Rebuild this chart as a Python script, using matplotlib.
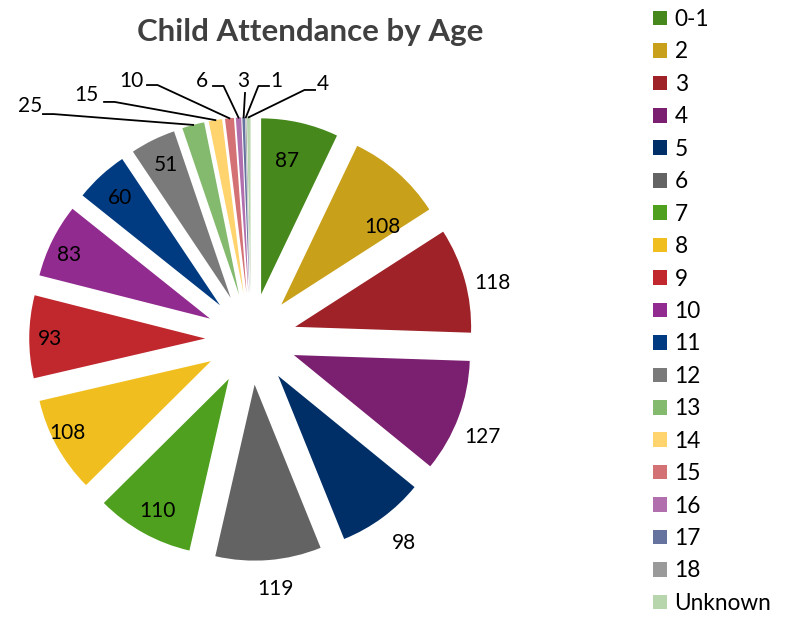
import matplotlib
matplotlib.use("Agg")
import matplotlib.pyplot as plt
import numpy as np

# Datos
ages = ['0-1', '2', '3', '4', '5', '6', '7', '8', '9', '10', '11', '12',
        '13', '14', '15', '16', '17', '18', 'Unknown']
attendance = [87, 108, 118, 127, 98, 119, 110, 108, 93, 83, 60, 51,
              25, 15, 10, 6, 3, 1, 4]

colors = ['#46881B', '#C9A01A', '#9E2227', '#7B1F70', '#002F68', '#636363',
          '#4EA01E', '#F0BF1F', '#C0282E', '#912B8F', '#003B82', '#7A7A7A',
          '#83BA6D', '#FFD36E', '#D47174', '#B26FAD', '#67739F', '#9A9A9A',
          '#B8D6AE']

plt.rcParams['font.family'] = ['Lato', 'DejaVu Sans']

fig = plt.figure(figsize=(7.86, 6.17), dpi=100)
R_PX = 176.0
L = 1.5
ax = fig.add_axes([(251 - L * R_PX) / 786, (617 - 339 - L * R_PX) / 617,
                   2 * L * R_PX / 786, 2 * L * R_PX / 617])

explode = [0.26] * len(attendance)
wedges, _ = ax.pie(attendance, colors=colors, explode=explode, startangle=90,
                   counterclock=False, radius=1,
                   wedgeprops=dict(linewidth=0))
ax.set_xlim(-L, L)
ax.set_ylim(-L, L)
ax.set_aspect('equal')
ax.axis('off')

# Etiquetas de las porciones grandes: (radio, desplazamiento angular)
big_label_pos = [(1.03, 1.3), (0.98, -8.3), (1.41, -2.3), (1.43, -2.4),
                 (1.45, 0.5), (1.43, 1.1), (1.11, 0.6), (1.17, -1.9),
                 (1.14, 0.6), (1.14, 1.7), (1.09, 0.3), (1.10, -0.1)]
for w, v, (r, off) in zip(wedges, attendance, big_label_pos):
    ang = np.deg2rad((w.theta1 + w.theta2) / 2 + off)
    ax.text(r * np.cos(ang), r * np.sin(ang), str(v), ha='center',
            va='center', fontsize=15, color='black')

# Etiquetas de las porciones pequeñas con líneas guía
small_label_pos = [(-1.256, 1.324, -1.182, 1.278), (-0.9375, 1.386, -0.835, 1.347),
                   (-0.682, 1.466, -0.591, 1.443), (-0.278, 1.466, -0.216, 1.4375),
                   (-0.045, 1.466, -0.034, 1.398), (0.142, 1.466, 0.102, 1.4375),
                   (0.409, 1.449, 0.364, 1.415)]
for w, v, (tx, ty, sx, sy) in zip(wedges[12:], attendance[12:], small_label_pos):
    ang = np.deg2rad((w.theta1 + w.theta2) / 2)
    cx, cy = w.center
    ex, ey = cx + w.r * np.cos(ang), cy + w.r * np.sin(ang)
    ax.text(tx, ty, str(v), ha='center', va='center', fontsize=15,
            color='black', clip_on=False)
    if abs(sx - ex) < 0.02:
        xs, ys = [sx, ex], [sy, ey]
    else:
        step = 0.06 if ex > sx else -0.06
        xs, ys = [sx, sx + step, ex], [sy, sy, ey]
    ax.plot(xs, ys, color='black', linewidth=1.3, clip_on=False)

fig.text(310 / 786, 1 - 32 / 617, 'Child Attendance by Age', ha='center',
         va='center', fontsize=22.5, fontweight='bold', color='#404040')

leg = fig.legend(wedges, ages, loc='upper left',
                 bbox_to_anchor=(644 / 786, 1.0), frameon=False,
                 fontsize=16.3, handlelength=0.62, handleheight=0.62,
                 handletextpad=0.33, labelspacing=0.505, borderaxespad=0)

plt.savefig('out.png', dpi=100)
plt.close()
